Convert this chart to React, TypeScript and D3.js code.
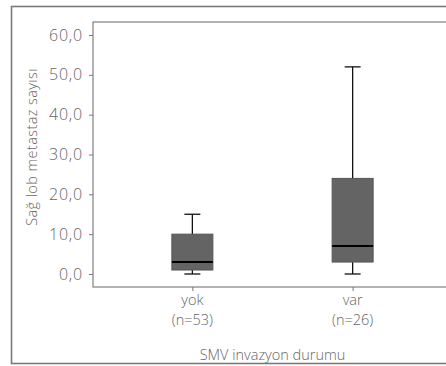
import React, { useEffect, useRef } from "react";
import * as d3 from "d3";

// groups and their box summaries (min, q1, median, q3, max)
const groups = ["yok", "var"];
const groupN = ["(n=53)", "(n=26)"];
const mins = [0, 0];
const q1s = [1, 3];
const medians = [3, 7];
const q3s = [10, 24];
const maxs = [15, 52];
const yTicks = [0, 10, 20, 30, 40, 50, 60];

const W = 446;
const H = 366;
const FONT = "'Open Sans', 'DejaVu Sans', sans-serif";

const App = () => {
  const svgRef = useRef<SVGSVGElement>(null);

  useEffect(() => {
    const svg = d3.select(svgRef.current);
    svg.selectAll("*").remove();

    const margin = { top: 22, left: 93, bottom: 287, right: 452 };

    // outer frame (runs past right edge)
    svg
      .append("rect")
      .attr("x", 11.5)
      .attr("y", 6.5)
      .attr("width", 460)
      .attr("height", 357)
      .attr("fill", "none")
      .attr("stroke", "#7a7a7a")
      .attr("stroke-width", 1.6);

    // plot frame
    svg
      .append("rect")
      .attr("x", margin.left)
      .attr("y", margin.top)
      .attr("width", 400)
      .attr("height", margin.bottom - margin.top)
      .attr("fill", "none")
      .attr("stroke", "#8a8a8a")
      .attr("stroke-width", 1.3);

    const y = d3.scaleLinear().domain([0, 60]).range([274, 35]);
    const x = d3
      .scalePoint()
      .domain(groups)
      .range([margin.left, margin.right])
      .padding(0.62);

    // y axis
    const yAxis = svg
      .append("g")
      .attr("transform", `translate(${margin.left},0)`)
      .call(
        d3
          .axisLeft(y)
          .tickValues(yTicks)
          .tickSize(4)
          .tickPadding(6)
          .tickFormat((d) => d3.format(".1f")(d as number).replace(".", ","))
      );
    yAxis.select(".domain").remove();
    yAxis.selectAll("line").attr("stroke", "#777");
    yAxis
      .selectAll("text")
      .attr("fill", "#666")
      .style("font-family", FONT)
      .style("font-size", "16px")
      .style("letter-spacing", "0.8px")
      .style("font-weight", 300);

    // x axis
    const xAxis = svg
      .append("g")
      .attr("transform", `translate(0,${margin.bottom})`)
      .call(d3.axisBottom(x).tickSize(4).tickFormat(() => ""));
    xAxis.select(".domain").remove();
    xAxis.selectAll("line").attr("stroke", "#777");

    groups.forEach((gname, i) => {
      const cx = x(gname) as number;
      const bw = 41;
      const cap = 16;
      const g = svg.append("g");

      // whiskers
      g.append("line")
        .attr("x1", cx)
        .attr("x2", cx)
        .attr("y1", y(maxs[i]))
        .attr("y2", y(q3s[i]))
        .attr("stroke", "#111")
        .attr("stroke-width", 1.3);
      g.append("line")
        .attr("x1", cx)
        .attr("x2", cx)
        .attr("y1", y(q1s[i]))
        .attr("y2", y(mins[i]))
        .attr("stroke", "#111")
        .attr("stroke-width", 1.3);
      [maxs[i], mins[i]].forEach((v) => {
        g.append("line")
          .attr("x1", cx - cap / 2)
          .attr("x2", cx + cap / 2)
          .attr("y1", y(v))
          .attr("y2", y(v))
          .attr("stroke", "#111")
          .attr("stroke-width", 1.3);
      });

      // box
      g.append("rect")
        .attr("x", cx - bw / 2)
        .attr("y", y(q3s[i]))
        .attr("width", bw)
        .attr("height", y(q1s[i]) - y(q3s[i]))
        .attr("fill", "#646464")
        .attr("stroke", "#555")
        .attr("stroke-width", 1);

      // median
      g.append("line")
        .attr("x1", cx - bw / 2)
        .attr("x2", cx + bw / 2)
        .attr("y1", y(medians[i]))
        .attr("y2", y(medians[i]))
        .attr("stroke", "#000")
        .attr("stroke-width", 2);

      // category labels
      g.append("text")
        .attr("x", cx)
        .attr("y", 305)
        .attr("text-anchor", "middle")
        .attr("fill", "#666")
        .style("font-family", FONT)
        .style("font-size", "14.5px")
        .style("font-weight", 300)
        .text(gname);
      g.append("text")
        .attr("x", cx)
        .attr("y", 325)
        .attr("text-anchor", "middle")
        .attr("fill", "#666")
        .style("font-family", FONT)
        .style("font-size", "14.5px")
        .style("font-weight", 300)
        .text(groupN[i]);
    });

    // axis titles
    svg
      .append("text")
      .attr("x", ((x("yok") as number) + (x("var") as number)) / 2)
      .attr("y", 360)
      .attr("text-anchor", "middle")
      .attr("fill", "#666")
      .style("font-family", FONT)
      .style("font-size", "14.5px")
      .style("font-weight", 300)
      .text("SMV invazyon durumu");

    svg
      .append("text")
      .attr("transform", `translate(37,147) rotate(-90)`)
      .attr("text-anchor", "middle")
      .attr("fill", "#666")
      .style("font-family", FONT)
      .style("font-size", "14.5px")
      .style("letter-spacing", "0.4px")
      .style("font-weight", 300)
      .text("Sağ lob metastaz sayısı");
  }, []);

  return (
    <svg
      ref={svgRef}
      width={W}
      height={H}
      style={{ position: "absolute", left: 0, top: 0, background: "#fff" }}
    ></svg>
  );
};

export default App;
